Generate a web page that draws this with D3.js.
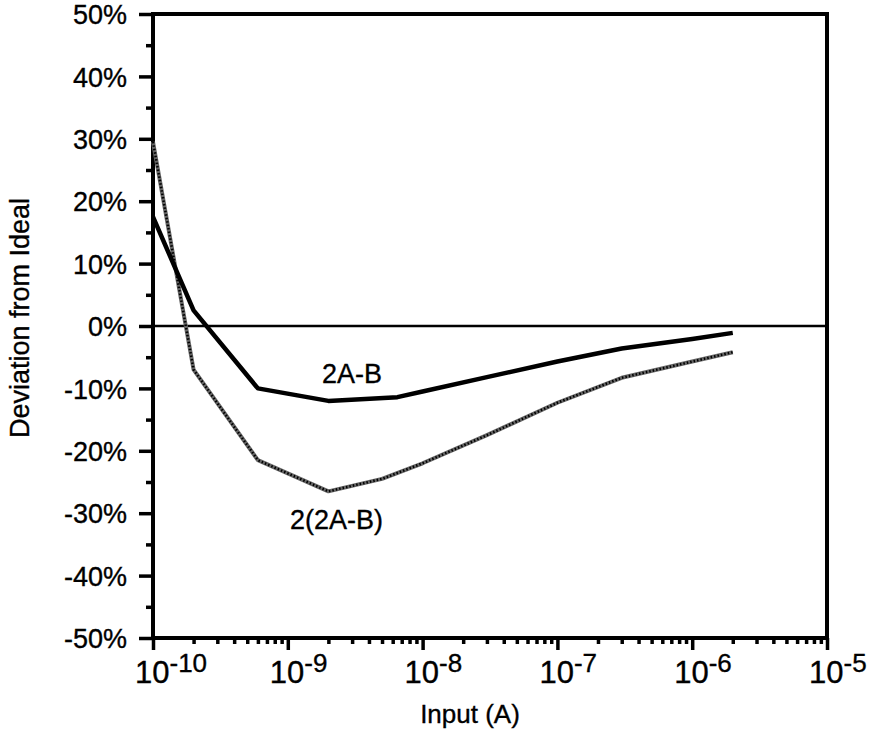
<!DOCTYPE html>
<html>
<head>
<meta charset="utf-8">
<script src="https://cdn.jsdelivr.net/npm/d3@7"></script>
<style>
  body { margin: 0; background: #fff; }
  text { font-family: "Liberation Sans", Arial, Helvetica, sans-serif; fill: #000; stroke: #000; stroke-width: 0.35px; }
</style>
</head>
<body>
<svg></svg>
<script>
// values (input in A, deviation in %)
const inputA = [1e-10, 2e-10, 6e-10, 2e-9, 6.5e-9, 1e-8, 3e-8, 1e-7, 3e-7, 1e-6, 2e-6];
const dev2AB = [17.5, 2.5, -10, -12, -11.4, -10.5, -8.2, -5.7, -3.6, -2.1, -1.1];

const inputB = [1e-10, 2e-10, 6e-10, 2e-9, 5e-9, 1e-8, 3e-8, 1e-7, 3e-7, 1e-6, 2e-6];
const dev22AB = [29.5, -7, -21.5, -26.5, -24.5, -22, -17.5, -12.3, -8.3, -5.7, -4.2];

const yTicks = [50, 40, 30, 20, 10, 0, -10, -20, -30, -40, -50];
const xExponents = [-10, -9, -8, -7, -6, -5];

const svg = d3.select("svg").attr("width", 870).attr("height", 735);

const margin = { top: 14, right: 43, bottom: 97, left: 153 };
const graphWidth = 870 - margin.left - margin.right;
const graphHeight = 735 - margin.top - margin.bottom;

const graph = svg
  .append("g")
  .attr("transform", `translate(${margin.left}, ${margin.top})`);

const x = d3.scaleLog().domain([1e-10, 1e-5]).range([0, graphWidth]);
const y = d3.scaleLinear().domain([-50, 50]).range([graphHeight, 0]);

// y axis: major every 10%, minor every 5%
const yAxis = d3
  .axisLeft(y)
  .tickValues(yTicks)
  .tickSize(14)
  .tickPadding(12)
  .tickFormat((d) => d + "%");
const yMinor = d3
  .axisLeft(y)
  .tickValues(d3.range(-45, 50, 10))
  .tickSize(7)
  .tickFormat("");

const yAxisGroup = graph.append("g").call(yAxis);
graph.append("g").call(yMinor);

// x axis: decades plus 2..9 minors
const minorX = [];
xExponents.slice(0, -1).forEach((e) => {
  for (let k = 2; k <= 9; k++) minorX.push(k * Math.pow(10, e));
});
const xAxisGroup = graph
  .append("g")
  .attr("transform", `translate(0, ${graphHeight})`);
xAxisGroup.call(
  d3.axisBottom(x).tickValues(xExponents.map((e) => Math.pow(10, e))).tickSize(12).tickFormat("")
);
graph
  .append("g")
  .attr("transform", `translate(0, ${graphHeight})`)
  .call(d3.axisBottom(x).tickValues(minorX).tickSize(6).tickFormat(""));

graph.selectAll(".domain").remove();
graph.selectAll(".tick line").attr("stroke", "#000").attr("stroke-width", 3.5);
yAxisGroup
  .selectAll(".tick text")
  .style("font-size", "27px")
  .attr("dy", "0.36em");

// 10^n labels, "10" centred on the tick
const xLabels = graph
  .append("g")
  .selectAll("text")
  .data(xExponents)
  .enter()
  .append("text")
  .attr("x", (d) => x(Math.pow(10, d)) - 18)
  .attr("y", graphHeight + 45)
  .style("font-size", "31px");
xLabels.append("tspan").text("10");
xLabels
  .append("tspan")
  .attr("dy", -11)
  .style("font-size", "26px")
  .text((d) => "-" + Math.abs(d));

// frame
graph
  .append("rect")
  .attr("width", graphWidth)
  .attr("height", graphHeight)
  .attr("fill", "none")
  .attr("stroke", "#000")
  .attr("stroke-width", 4);

// zero line
graph
  .append("line")
  .attr("x1", 0)
  .attr("x2", graphWidth)
  .attr("y1", y(0))
  .attr("y2", y(0))
  .attr("stroke", "#000")
  .attr("stroke-width", 2.5);

const line = (xs) =>
  d3
    .line()
    .x((d, i) => x(xs[i]))
    .y((d) => y(d));

// 2(2A-B): grey textured line
graph
  .append("path")
  .attr("d", line(inputB)(dev22AB))
  .attr("fill", "none")
  .attr("stroke", "#666")
  .attr("stroke-width", 4)
  .attr("stroke-linejoin", "round");
graph
  .append("path")
  .attr("d", line(inputB)(dev22AB))
  .attr("fill", "none")
  .attr("stroke", "#000")
  .attr("stroke-width", 2.5)
  .attr("stroke-dasharray", "1.5 2");

// 2A-B: solid
graph
  .append("path")
  .attr("d", line(inputA)(dev2AB))
  .attr("fill", "none")
  .attr("stroke", "#000")
  .attr("stroke-width", 4.5)
  .attr("stroke-linejoin", "round");

// series labels
graph
  .append("text")
  .attr("x", x(3e-9))
  .attr("y", y(-9.2))
  .attr("text-anchor", "middle")
  .style("font-size", "27px")
  .text("2A-B");
graph
  .append("text")
  .attr("x", x(2.3e-9))
  .attr("y", y(-32.5))
  .attr("text-anchor", "middle")
  .style("font-size", "27px")
  .text("2(2A-B)");

// axis titles
svg
  .append("text")
  .attr("x", 470)
  .attr("y", 723)
  .attr("text-anchor", "middle")
  .style("font-size", "26px")
  .text("Input (A)");
svg
  .append("text")
  .attr("transform", "translate(29, 318) rotate(-90)")
  .attr("text-anchor", "middle")
  .style("font-size", "27px")
  .text("Deviation from Ideal");
</script>
</body>
</html>
